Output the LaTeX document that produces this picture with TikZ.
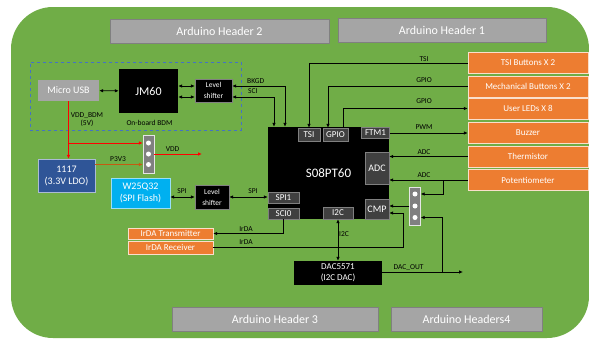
\documentclass[tikz,border=0pt]{standalone}
\usepackage{fontspec}
\setmainfont{Carlito}
\usetikzlibrary{arrows.meta}
\definecolor{board}{RGB}{112,173,71}
\definecolor{hdrgray}{RGB}{165,165,165}
\definecolor{hdredge}{RGB}{128,128,128}
\definecolor{partorange}{RGB}{237,125,49}
\definecolor{subgray}{RGB}{64,64,64}
\definecolor{ldoblue}{RGB}{47,85,151}
\definecolor{flashblue}{RGB}{0,176,240}
\definecolor{bdmblue}{RGB}{68,114,196}
\definecolor{p3red}{RGB}{197,90,17}

\begin{document}
\begin{tikzpicture}[x=1pt,y=-1pt,>={Latex[length=4pt,width=3.5pt]},
    every node/.style={inner sep=0pt},
    hdr/.style={draw=hdredge,fill=hdrgray,text=white,font=\fontsize{12}{14}\selectfont,minimum height=24pt},
    part/.style={draw=white!75!partorange,fill=partorange,text=white,font=\fontsize{9}{10}\selectfont,minimum width=120pt,minimum height=21pt},
    blk/.style={fill=black,text=white,align=center},
    sub/.style={draw=gray,fill=subgray,text=white,font=\fontsize{9}{10}\selectfont},
    sig/.style={font=\fontsize{7.5}{8}\selectfont},
    wire/.style={line width=0.75pt},
    pwr/.style={red,line width=0.9pt},
    hole/.style={circle,fill=white,minimum size=5pt},
    header/.style={draw=white!80!gray,fill=gray,minimum width=11pt,minimum height=38pt}]
  \fill[white] (0,0) rectangle (589,340);
  \useasboundingbox (0,0) rectangle (589,340);
  \fill[board,rounded corners=42pt] (11,7) rectangle (589,338);

  \node[hdr,minimum width=219pt] (hdr2) at (219.5,31) {Arduino Header 2};
  \node[hdr,minimum width=208pt] (hdr1) at (442,30) {Arduino Header 1};
  \node[hdr,minimum width=206pt] (hdr3) at (275,319) {Arduino Header 3};
  \node[hdr,minimum width=151pt] (hdr4) at (466.5,319) {Arduino Headers4};

  \node[draw=bdmblue,dashed,minimum width=211pt,minimum height=68pt] (bdm) at (135.5,96) {};
  \node[fill=hdrgray,text=white,font=\fontsize{10}{12}\selectfont,minimum width=61pt,minimum height=21pt] (usb) at (68.5,90.5) {Micro USB};
  \node[blk,font=\fontsize{12}{14}\selectfont,minimum width=59pt,minimum height=44pt] (jm) at (148.5,91) {JM60};
  \node[blk,draw=gray,font=\fontsize{7.5}{11}\selectfont,minimum width=37pt,minimum height=23pt] (ls1) at (213.5,90.5) {Level\\shifter};
  \node[sig] at (149.5,123) {On-board BDM};

  \node[blk,font=\fontsize{13}{15}\selectfont,minimum width=121pt,minimum height=92pt] (mcu) at (328.5,173) {S08PT60};
  \node[sub,minimum width=22pt,minimum height=13pt] (tsi) at (309,134.5) {TSI};
  \node[sub,minimum width=25pt,minimum height=13pt] (gpio) at (335.5,134.5) {GPIO};
  \node[sub,minimum width=28pt,minimum height=11pt] (ftm) at (375.5,133) {FTM1};
  \node[sub,font=\fontsize{10}{12}\selectfont,minimum width=24pt,minimum height=32pt] (adc) at (377,168) {ADC};
  \node[sub,font=\fontsize{10}{12}\selectfont,minimum width=24pt,minimum height=20pt] (cmp) at (377,209) {CMP};
  \node[sub,minimum width=31pt,minimum height=11pt] (spi) at (283.5,197.5) {SPI1};
  \node[sub,minimum width=31pt,minimum height=11pt] (sci) at (283.5,213.5) {SCI0};
  \node[sub,minimum width=30pt,minimum height=12pt] (i2c) at (338,213) {I2C};

  \node[part] (tsib) at (528,63) {TSI Buttons X 2};
  \node[part] (mech) at (528,86.5) {Mechanical Buttons X 2};
  \node[part] (led) at (528,108.5) {User LEDs X 8};
  \node[part] (buz) at (528,132.5) {Buzzer};
  \node[part] (therm) at (528,156.5) {Thermistor};
  \node[part] (pot) at (528,180) {Potentiometer};
  \node[part,minimum width=85pt,minimum height=11pt] (irt) at (170.5,233.5) {IrDA Transmitter};
  \node[part,minimum width=85pt,minimum height=13pt] (irr) at (170.5,247.5) {IrDA Receiver};

  \node[blk,font=\fontsize{9}{11}\selectfont,minimum width=88pt,minimum height=24pt] (dac) at (338,273) {DAC5571\\(I2C DAC)};
  \node[draw=white!60!flashblue,fill=flashblue,text=white,align=center,font=\fontsize{10}{12}\selectfont,minimum width=59pt,minimum height=30pt] (flash) at (140.5,193) {W25Q32\\(SPI Flash)};
  \node[blk,draw=gray,font=\fontsize{7.5}{11}\selectfont,minimum width=34pt,minimum height=24pt] (ls2) at (212,197) {Level\\shifter};
  \node[draw=white!60!ldoblue,fill=ldoblue,text=white,align=center,font=\fontsize{10}{12}\selectfont,minimum width=57pt,minimum height=33pt] (ldo) at (66.5,175.5) {1117\\(3.3V LDO)};

  \node[header] (pinL) at (148.5,154) {};
  \node[hole] (pL1) at (148.5,143) {};
  \node[hole] (pL2) at (148.5,154) {};
  \node[hole] (pL3) at (148.5,164.5) {};
  \node[header] (pinR) at (415,206) {};
  \node[hole] (pR1) at (415,194) {};
  \node[hole] (pR2) at (415,206) {};
  \node[hole] (pR3) at (415,217.5) {};

  \coordinate (vdd) at (202,154);
  \coordinate (dout) at (463,272);

  \draw[wire,<->] (usb) -- (jm);
  \draw[wire,<->] (jm.east |- 0,86) -- (ls1.west |- 0,86);
  \draw[wire,<->] (jm.east |- 0,97) -- (ls1.west |- 0,97);
  \draw[wire,<->] (ls1.east |- 0,86) -| (mcu.north -| 285,0);
  \draw[wire,<->] (ls1.east |- 0,97) -| (mcu.north -| 274,0);
  \node[sig,anchor=west] at (247,81) {BKGD};
  \node[sig,anchor=west] at (248,91.5) {SCI};

  \draw[wire,->] (tsib.west) -| (tsi.north);
  \draw[wire,->] (mech.west) -| (gpio.north -| 328,0);
  \draw[wire,->] (gpio.north -| 343,0) |- (led.west);
  \draw[wire,->] (ftm.east) -- (buz.west |- ftm.east);
  \draw[wire,->] (therm.west) -- (therm.west -| adc.east);
  \draw[wire,->] (pot.west) -- (pot.west -| adc.east);
  \draw[wire,->] (pot.west -| 443,0) |- (pinR.east |- pR1);
  \draw[wire,->] (pinR.west |- pR2) -- (cmp.east |- pR2);
  \draw[wire,->] (irr.east) -| (403,213) -- (cmp.east |- 0,213);
  \draw[wire,->] (dac.east |- dout) -- (dout);
  \draw[wire,->] (dout -| 442,0) |- (pinR.east |- pR3);
  \draw[wire,<->] (i2c.south) -- (dac.north);
  \draw[wire,->] (sci.south) |- (irt.east);
  \draw[wire,<->] (flash.east |- ls2.west) -- (ls2.west);
  \draw[wire,<->] (ls2.east) -- (spi.west |- ls2.east);
  \node[sig] at (424,59.5) {TSI};
  \node[sig] at (424,80.5) {GPIO};
  \node[sig] at (424,101.5) {GPIO};
  \node[sig] at (424,127.5) {PWM};
  \node[sig] at (424,152) {ADC};
  \node[sig] at (424,175.5) {ADC};
  \node[sig] at (246,229) {IrDA};
  \node[sig] at (246,242.5) {IrDA};
  \node[sig] at (344,234) {I2C};
  \node[sig] at (408.5,268) {DAC\_OUT};
  \node[sig] at (182,191.5) {SPI};
  \node[sig] at (253,191.5) {SPI};

  \draw[pwr,->] (usb.south) -- (usb.south |- ldo.north);
  \draw[pwr,->] (usb.south |- 0,143) -- (pinL.west |- pL1);
  \draw[pwr,->] (pinL.east |- pL2) -- (vdd);
  \draw[pwr,p3red,->] (ldo.east |- pL3) -- (pinL.west |- pL3);
  \node[sig,align=center] at (87,119.5) {VDD\_BDM\\(5V)};
  \node[sig] at (172.5,149) {VDD};
  \node[sig] at (118,159.5) {P3V3};
\end{tikzpicture}
\end{document}
